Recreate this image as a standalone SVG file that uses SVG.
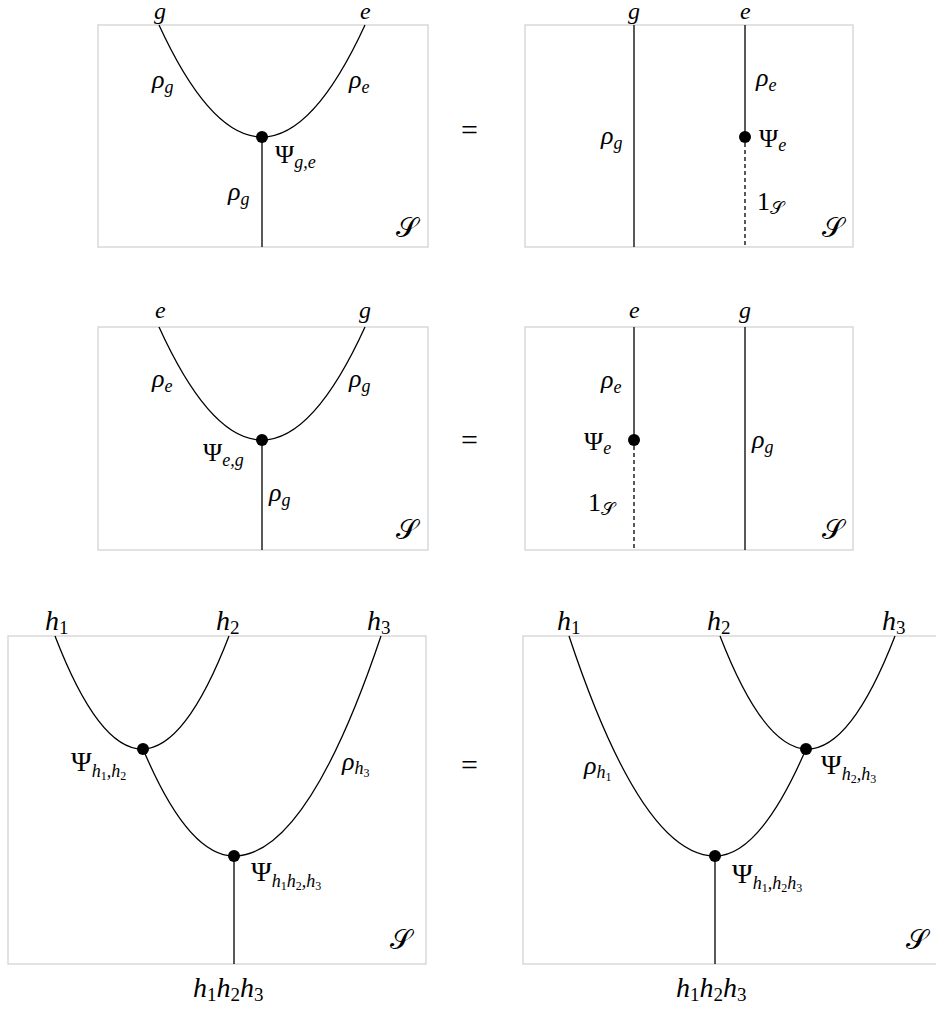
<svg xmlns="http://www.w3.org/2000/svg" width="936" height="1010" viewBox="0 0 936 1010" font-family="'Liberation Serif', 'Times New Roman', serif">
<style>
.frame{fill:none;stroke:#d9d9d9;stroke-width:1.5}
.wire{fill:none;stroke:#000;stroke-width:1.3}
.dash{fill:none;stroke:#000;stroke-width:1.3;stroke-dasharray:4 3}
.dot{fill:#000}
text{fill:#000}
.m{font-style:italic;font-size:26px}
.up{font-style:normal;font-size:26px}
.big{font-size:28px}
.S{font-style:normal;font-size:28px}
.sub{font-size:18px}
.eq{font-size:30px}
.top{font-size:24px}
</style>

<!-- Panel 1 -->
<g id="p1">
<rect class="frame" x="98" y="25" width="330" height="222"/>
<g id="p1-wires">
<path class="wire" d="M159,25 Q262,249 365,25"/>
<line class="wire" x1="262" y1="137" x2="262" y2="247"/>
</g>
<g id="p1-node"><circle class="dot" cx="262" cy="137" r="6"/>
<text class="up" x="275" y="163">Ψ<tspan class="m sub" dy="5">g,e</tspan></text></g>
<text class="m top" x="154" y="19">g</text>
<text class="m top" x="360" y="19">e</text>
<text class="m" x="152" y="88">ρ<tspan class="sub" dy="5">g</tspan></text>
<text class="m" x="349" y="88">ρ<tspan class="sub" dy="5">e</tspan></text>
<text class="m" x="228" y="200">ρ<tspan class="sub" dy="5">g</tspan></text>
<text class="S" x="396" y="237">𝒮</text>
</g>

<text class="eq" x="461" y="140">=</text>

<!-- Panel 2 -->
<g id="p2">
<rect class="frame" x="525" y="25" width="328" height="222"/>
<g id="p2-wires">
<line class="wire" x1="634" y1="25" x2="634" y2="247"/>
<line class="wire" x1="745" y1="25" x2="745" y2="137"/>
<line class="dash" x1="745" y1="143" x2="745" y2="247"/>
</g>
<g id="p2-node"><circle class="dot" cx="745" cy="137" r="6"/>
<text class="up" x="759" y="147">Ψ<tspan class="m sub" dy="4">e</tspan></text></g>
<text class="m top" x="628" y="19">g</text>
<text class="m top" x="740" y="19">e</text>
<text class="m" x="756" y="86">ρ<tspan class="sub" dy="5">e</tspan></text>
<text class="m" x="601" y="144">ρ<tspan class="sub" dy="5">g</tspan></text>
<text class="up" x="757" y="210">1<tspan class="S sub" dy="4">𝒮</tspan></text>
<text class="S" x="822" y="237">𝒮</text>
</g>

<!-- Panel 3 -->
<g id="p3">
<rect class="frame" x="98" y="327" width="330" height="223"/>
<g id="p3-wires">
<path class="wire" d="M159,327 Q262,553 365,327"/>
<line class="wire" x1="262" y1="440" x2="262" y2="550"/>
</g>
<g id="p3-node"><circle class="dot" cx="262" cy="440" r="6"/>
<text class="up" x="203" y="461">Ψ<tspan class="m sub" dy="5">e,g</tspan></text></g>
<text class="m top" x="155" y="318">e</text>
<text class="m top" x="359" y="318">g</text>
<text class="m" x="152" y="387">ρ<tspan class="sub" dy="5">e</tspan></text>
<text class="m" x="349" y="387">ρ<tspan class="sub" dy="5">g</tspan></text>
<text class="m" x="269" y="501">ρ<tspan class="sub" dy="5">g</tspan></text>
<text class="S" x="396" y="539">𝒮</text>
</g>

<text class="eq" x="461" y="450">=</text>

<!-- Panel 4 -->
<g id="p4">
<rect class="frame" x="525" y="327" width="328" height="223"/>
<g id="p4-wires">
<line class="wire" x1="634" y1="327" x2="634" y2="440"/>
<line class="dash" x1="634" y1="446" x2="634" y2="550"/>
<line class="wire" x1="745" y1="327" x2="745" y2="550"/>
</g>
<g id="p4-node"><circle class="dot" cx="634" cy="440" r="6"/>
<text class="up" x="584" y="450">Ψ<tspan class="m sub" dy="4">e</tspan></text></g>
<text class="m top" x="629" y="318">e</text>
<text class="m top" x="739" y="318">g</text>
<text class="m" x="601" y="388">ρ<tspan class="sub" dy="5">e</tspan></text>
<text class="m" x="752" y="448">ρ<tspan class="sub" dy="5">g</tspan></text>
<text class="up" x="588" y="511">1<tspan class="S sub" dy="4">𝒮</tspan></text>
<text class="S" x="822" y="539">𝒮</text>
</g>

<!-- Panel 5 -->
<g id="p5">
<rect class="frame" x="8" y="636" width="418" height="328"/>
<g id="p5-wires">
<path class="wire" d="M55,636 Q142,862 229,636"/>
<path class="wire" d="M143,749 Q188,856 234,856 Q307,856 381,636"/>
<line class="wire" x1="234" y1="856" x2="234" y2="964"/>
</g>
<g id="p5-node1"><circle class="dot" cx="143" cy="749" r="6"/>
<text class="up big" x="71" y="771">Ψ<tspan class="m sub" dy="6">h<tspan font-size="12" font-style="normal" dy="3">1</tspan><tspan dy="-3">,h</tspan><tspan font-size="12" font-style="normal" dy="3">2</tspan></tspan></text></g>
<g id="p5-node2"><circle class="dot" cx="234" cy="856" r="6"/>
<text class="up big" x="251" y="881">Ψ<tspan class="m sub" dy="6">h<tspan font-size="12" font-style="normal" dy="3">1</tspan><tspan dy="-3">h</tspan><tspan font-size="12" font-style="normal" dy="3">2</tspan><tspan dy="-3">,h</tspan><tspan font-size="12" font-style="normal" dy="3">3</tspan></tspan></text></g>
<text class="m big" x="45" y="630">h<tspan font-style="normal" font-size="19" dy="4">1</tspan></text>
<text class="m big" x="216" y="630">h<tspan font-style="normal" font-size="19" dy="4">2</tspan></text>
<text class="m big" x="367" y="630">h<tspan font-style="normal" font-size="19" dy="4">3</tspan></text>
<text class="m" x="342" y="770">ρ<tspan class="sub" dy="4">h<tspan font-size="12" font-style="normal" dy="3">3</tspan></tspan></text>
<text class="m big" x="193" y="997">h<tspan font-style="normal" font-size="19" dy="4">1</tspan><tspan dy="-4">h</tspan><tspan font-style="normal" font-size="19" dy="4">2</tspan><tspan dy="-4">h</tspan><tspan font-style="normal" font-size="19" dy="4">3</tspan></text>
<text class="S" x="390" y="949">𝒮</text>
</g>

<text class="eq" x="461" y="775">=</text>

<!-- Panel 6 -->
<g id="p6">
<rect class="frame" x="523" y="636" width="430" height="328"/>
<g id="p6-wires">
<path class="wire" d="M569,636 Q642,856 715,856 Q760,856 806,749"/>
<path class="wire" d="M720,636 Q807.5,862 895,636"/>
<line class="wire" x1="715" y1="856" x2="715" y2="964"/>
</g>
<g id="p6-node1"><circle class="dot" cx="806" cy="749" r="6"/>
<text class="up big" x="821" y="774">Ψ<tspan class="m sub" dy="6">h<tspan font-size="12" font-style="normal" dy="3">2</tspan><tspan dy="-3">,h</tspan><tspan font-size="12" font-style="normal" dy="3">3</tspan></tspan></text></g>
<g id="p6-node2"><circle class="dot" cx="715" cy="856" r="6"/>
<text class="up big" x="732" y="883">Ψ<tspan class="m sub" dy="6">h<tspan font-size="12" font-style="normal" dy="3">1</tspan><tspan dy="-3">,h</tspan><tspan font-size="12" font-style="normal" dy="3">2</tspan><tspan dy="-3">h</tspan><tspan font-size="12" font-style="normal" dy="3">3</tspan></tspan></text></g>
<text class="m big" x="557" y="630">h<tspan font-style="normal" font-size="19" dy="4">1</tspan></text>
<text class="m big" x="707" y="630">h<tspan font-style="normal" font-size="19" dy="4">2</tspan></text>
<text class="m big" x="882" y="630">h<tspan font-style="normal" font-size="19" dy="4">3</tspan></text>
<text class="m" x="584" y="774">ρ<tspan class="sub" dy="4">h<tspan font-size="12" font-style="normal" dy="3">1</tspan></tspan></text>
<text class="m big" x="676" y="997">h<tspan font-style="normal" font-size="19" dy="4">1</tspan><tspan dy="-4">h</tspan><tspan font-style="normal" font-size="19" dy="4">2</tspan><tspan dy="-4">h</tspan><tspan font-style="normal" font-size="19" dy="4">3</tspan></text>
<text class="S" x="906" y="949">𝒮</text>
</g>
</svg>
